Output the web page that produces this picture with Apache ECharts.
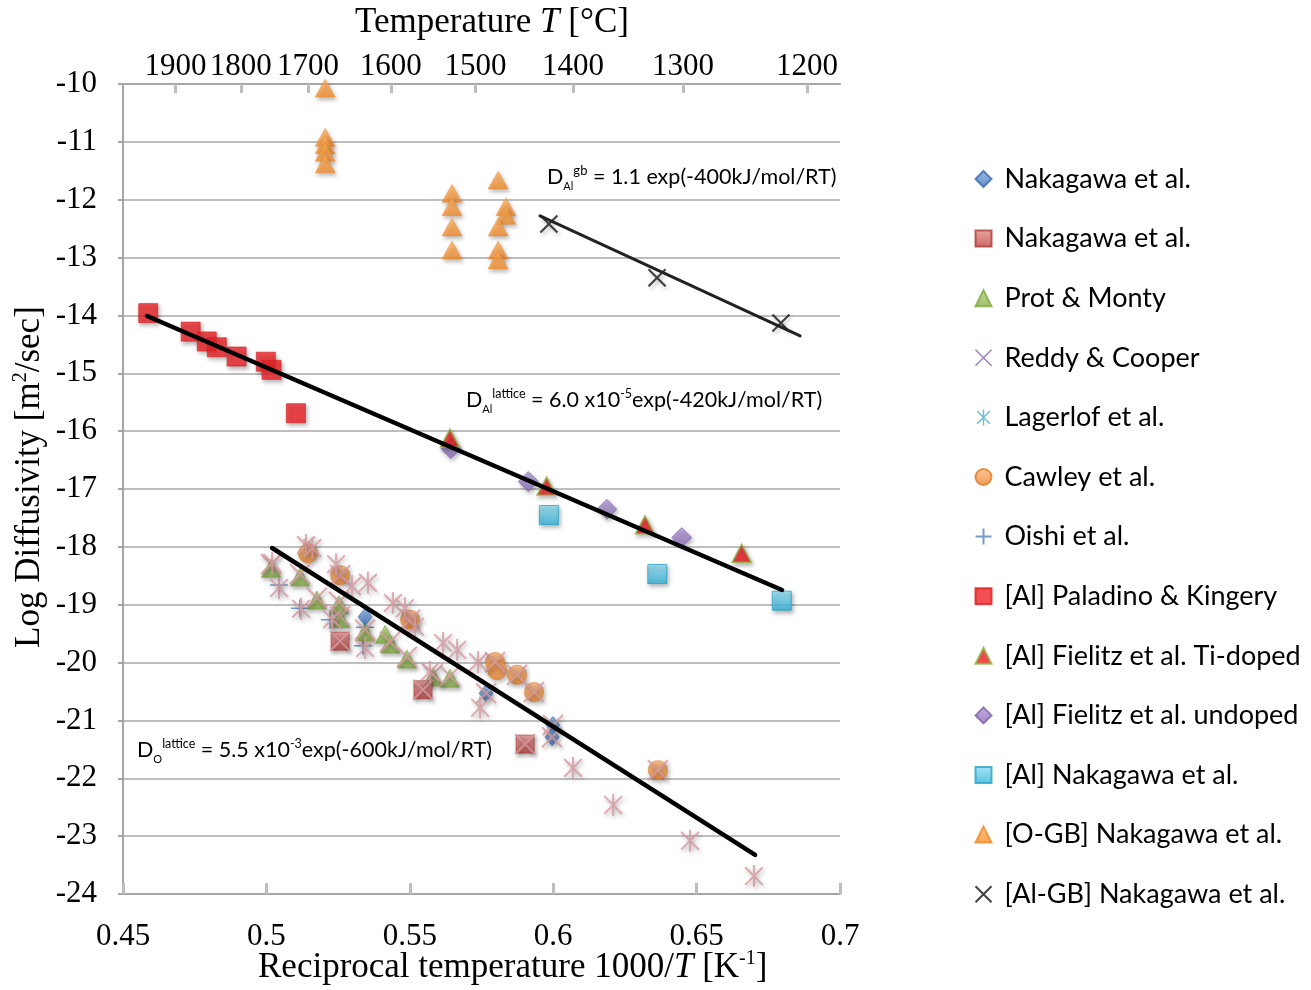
<!DOCTYPE html>
<html>
<head>
<meta charset="utf-8">
<script src="https://cdn.jsdelivr.net/npm/echarts@6/dist/echarts.min.js"></script>
<style>
  html, body { margin: 0; padding: 0; background: #fff; }
  #chart { width: 1311px; height: 990px; }
</style>
</head>
<body>
<div id="chart"></div>
<script>
// Axes: reciprocal temperature 1000/T [1/K] against log10 of diffusivity [m^2/s]
const xMin = 0.45, xMax = 0.7, xStep = 0.05;
const yMin = -24, yMax = -10, yStep = 1;

// Secondary temperature scale (°C) on the top edge, placed on the 1000/T axis
const tempTickLabels = ['1900', '1800', '1700', '1600', '1500', '1400', '1300', '1200'];
const tempTickPos = [0.4683, 0.4911, 0.5145, 0.5434, 0.5729, 0.6069, 0.6453, 0.6885];

// Oxygen lattice diffusion data
const nakagawaDiamond = [[0.5344, -19.21], [0.5766, -20.53], [0.5999, -21.08], [0.5996, -21.29]];
const nakagawaSquare = [[0.5257, -19.63], [0.5546, -20.47], [0.5902, -21.41]];
const protMonty = [[0.5016, -18.37], [0.5117, -18.52], [0.5176, -18.92], [0.5253, -19.00], [0.5257, -19.24],
  [0.5344, -19.47], [0.5414, -19.51], [0.5431, -19.68], [0.5490, -19.94], [0.5581, -20.25], [0.5640, -20.27]];
const reddyCooper = [[0.5016, -18.30], [0.5117, -18.47], [0.5176, -18.88], [0.5253, -18.95], [0.5257, -19.20],
  [0.5344, -19.43], [0.5431, -19.64], [0.5490, -19.90], [0.5581, -20.20], [0.5640, -20.23], [0.5257, -18.49],
  [0.5501, -19.26], [0.5797, -19.99], [0.5874, -20.21], [0.5933, -20.51], [0.6365, -21.86], [0.5766, -20.53],
  [0.5999, -21.08], [0.5996, -21.29], [0.5257, -19.63], [0.5546, -20.47], [0.5902, -21.41]];
const lagerlof = [[0.5020, -18.28], [0.5044, -18.71], [0.5138, -17.97], [0.5160, -18.02], [0.5121, -19.07],
  [0.5243, -18.30], [0.5298, -18.68], [0.5354, -18.62], [0.5229, -19.25], [0.5344, -19.75], [0.5441, -18.97],
  [0.5483, -19.06], [0.5518, -19.38], [0.5616, -19.66], [0.5665, -19.78], [0.5738, -19.99], [0.5745, -20.78],
  [0.5570, -20.16], [0.6069, -21.82], [0.6209, -22.46], [0.6477, -23.08], [0.6700, -23.69]];
const cawley = [[0.5145, -18.11], [0.5257, -18.49], [0.5501, -19.26], [0.5797, -19.99], [0.5804, -20.13],
  [0.5874, -20.21], [0.5933, -20.51], [0.6365, -21.86]];
const oishi = [[0.5044, -18.66], [0.5117, -19.06], [0.5222, -19.26], [0.5344, -19.39], [0.5337, -19.71]];

// Aluminium lattice diffusion data
const paladinoKingery = [[0.4588, -13.96], [0.4736, -14.28], [0.4792, -14.45], [0.4827, -14.55],
  [0.4896, -14.71], [0.4998, -14.80], [0.5018, -14.94], [0.5103, -15.69]];
const fielitzTiDoped = [[0.5640, -16.12], [0.5977, -16.95], [0.6320, -17.62], [0.6657, -18.11]];
const fielitzUndoped = [[0.5643, -16.30], [0.5913, -16.87], [0.6187, -17.35], [0.6448, -17.84]];
const nakagawaAl = [[0.5985, -17.45], [0.6363, -18.47], [0.6797, -18.93]];

// Grain-boundary diffusion data
const nakagawaOGB = [[0.5205, -10.07], [0.5205, -10.92], [0.5205, -11.05], [0.5205, -11.18], [0.5205, -11.38],
  [0.5647, -11.89], [0.5647, -12.12], [0.5647, -12.47], [0.5647, -12.87],
  [0.5808, -11.66], [0.5835, -12.12], [0.5835, -12.27], [0.5808, -12.47], [0.5808, -12.87], [0.5808, -13.04]];
const nakagawaAlGB = [[0.5985, -12.42], [0.6362, -13.35], [0.6794, -14.13]];

// Arrhenius fit lines (end points)
const fitAlGB = [[0.5954, -12.28], [0.6861, -14.355]];
const fitAlLattice = [[0.4584, -14.01], [0.6798, -18.745]];
const fitOLattice = [[0.5020, -18.02], [0.6704, -23.325]];

const SERIF = "'Liberation Serif', 'Times New Roman', serif";
const SANS = "Lato, 'Noto Sans', sans-serif";

const grad = (a, b) => ({ type: 'linear', x: 0, y: 0, x2: 0, y2: 1,
  colorStops: [{ offset: 0, color: a }, { offset: 1, color: b }] });
const shadow = { shadowBlur: 4, shadowOffsetX: 1.5, shadowOffsetY: 2.5, shadowColor: 'rgba(0,0,0,0.35)' };

const SYM_X = 'path://M-8,-8L8,8M8,-8L-8,8';
const SYM_ASTER = 'path://M0,-10L0,10M-8,-8L8,8M8,-8L-8,8';
const SYM_PLUS = 'path://M0,-9L0,9M-9,0L9,0';
const PINK = '#d69aa0';

function scatter(name, data, symbol, size, style, extra) {
  return Object.assign({
    type: 'scatter', name, data, symbol, symbolSize: size, symbolKeepAspect: true,
    itemStyle: Object.assign({}, shadow, style), z: 2
  }, extra || {});
}
function fit(data, color, width) {
  return { type: 'line', data, showSymbol: false, symbol: 'none', z: 5, silent: true,
    lineStyle: { color, width, cap: 'round' } };
}

// Text runs with sub/superscripts, laid out by measured widths
const measureCtx = document.createElement('canvas').getContext('2d');
function textWidth(t, size, family, style) {
  measureCtx.font = (style || 'normal') + ' ' + size + 'px ' + family;
  return measureCtx.measureText(t).width;
}
function run(x, y, parts, family, rotation) {
  let cx = 0;
  const children = parts.map(p => {
    const el = { type: 'text', x: cx, y: p.dy || 0, silent: true,
      style: { text: p.t, fontSize: p.s, fontFamily: family, fontStyle: p.it ? 'italic' : 'normal',
        fill: '#000', align: 'left', verticalAlign: 'middle' } };
    cx += textWidth(p.t, p.s, family, p.it ? 'italic' : 'normal');
    return el;
  });
  return { type: 'group', x, y, rotation: rotation || 0, children };
}

const T = 35;  // axis title size
const A = 21.5; // formula text size
const graphics = [
  run(355, 23, [{ t: 'Temperature ', s: T }, { t: 'T', s: T, it: true }, { t: ' [°C]', s: T }], SERIF),
  run(258, 968, [{ t: 'Reciprocal temperature 1000/', s: T }, { t: 'T', s: T, it: true }, { t: ' [K', s: T },
    { t: '-1', s: 20, dy: -9 }, { t: ']', s: T }], SERIF),
  run(30, 648, [{ t: 'Log Diffusivity [m', s: T }, { t: '2', s: 20, dy: -9 }, { t: '/sec]', s: T }], SERIF, Math.PI / 2),
  run(547, 177, [{ t: 'D', s: A }, { t: 'Al', s: 11, dy: 9 }, { t: 'gb', s: 13, dy: -6 },
    { t: ' = 1.1 exp(-400kJ/mol/RT)', s: A }], SANS),
  run(466, 400, [{ t: 'D', s: A }, { t: 'Al', s: 11, dy: 9 }, { t: 'lattice', s: 12.5, dy: -6 },
    { t: ' = 6.0 x10', s: A }, { t: '-5', s: 12.5, dy: -6 }, { t: 'exp(-420kJ/mol/RT)', s: A }], SANS),
  run(137, 750, [{ t: 'D', s: A }, { t: 'O', s: 11, dy: 9 }, { t: 'lattice', s: 12.5, dy: -6 },
    { t: ' = 5.5 x10', s: A }, { t: '-3', s: 12.5, dy: -6 }, { t: 'exp(-600kJ/mol/RT)', s: A }], SANS)
];

const AX = '#a6a6a6';
const option = {
  animation: false,
  backgroundColor: '#fff',
  grid: { left: 123, right: 471, top: 84, bottom: 96, containLabel: false },
  xAxis: [{
    type: 'value', position: 'bottom', min: xMin, max: xMax, interval: xStep,
    axisLine: { onZero: false, lineStyle: { color: AX, width: 2 } },
    axisTick: { inside: true, length: 11, lineStyle: { color: '#bdbdbd', width: 3 } },
    axisLabel: { margin: 27, fontFamily: SERIF, fontSize: 31, color: '#000' },
    splitLine: { show: false }
  }, {
    type: 'value', position: 'top', min: xMin, max: xMax,
    axisLine: { onZero: false, lineStyle: { color: AX, width: 2 } },
    axisTick: { inside: true, length: 9, customValues: tempTickPos, lineStyle: { color: '#bdbdbd', width: 3 } },
    axisLabel: { margin: 2, fontFamily: SERIF, fontSize: 31, color: '#000', customValues: tempTickPos,
      formatter: v => {
        const i = tempTickPos.findIndex(p => Math.abs(p - v) < 1e-6);
        return i < 0 ? '' : tempTickLabels[i];
      } },
    splitLine: { show: false }
  }],
  yAxis: {
    type: 'value', min: yMin, max: yMax, interval: yStep,
    axisLine: { show: true, onZero: false, lineStyle: { color: AX, width: 2 } },
    axisTick: { show: true, length: 5, lineStyle: { color: AX, width: 2 } },
    axisLabel: { margin: 26, fontFamily: SERIF, fontSize: 31, color: '#000' },
    splitLine: { lineStyle: { color: '#a8a8a8', width: 1.5 } }
  },
  legend: {
    orient: 'vertical', left: 968, top: 159, itemGap: 29.6, itemWidth: 16, itemHeight: 16,
    selectedMode: false,
    textStyle: { fontFamily: SANS, fontSize: 27, color: '#000', lineHeight: 30, padding: [0, 0, 0, 8] },
    itemStyle: { shadowBlur: 0, shadowOffsetX: 0, shadowOffsetY: 0 },
    data: [
      'Nakagawa et al.', 'Nakagawa et al. ', 'Prot & Monty',
      { name: 'Reddy & Cooper', itemStyle: { color: 'none', borderColor: '#8064a2', borderWidth: 1.5 } },
      { name: 'Lagerlof et al.', itemStyle: { color: 'none', borderColor: '#4bacc6', borderWidth: 1.5 } },
      'Cawley et al.', 'Oishi et al.', '[Al] Paladino & Kingery', '[Al] Fielitz et al. Ti-doped',
      '[Al] Fielitz et al. undoped', '[Al] Nakagawa et al.', '[O-GB] Nakagawa et al.', '[Al-GB] Nakagawa et al.'
    ]
  },
  graphic: graphics,
  series: [
    scatter('Oishi et al.', oishi, SYM_PLUS, 18, { color: 'none', borderColor: '#4f81bd', borderWidth: 1.5 }),
    scatter('Prot & Monty', protMonty, 'triangle', [19, 18], { color: grad('#b6d47e', '#85ad43'), borderColor: '#7fa63e', borderWidth: 0.8 }),
    scatter('Cawley et al.', cawley, 'circle', 19, { color: grad('#fbb47a', '#ef842c'), borderColor: '#e07a28', borderWidth: 0.8 }),
    scatter('Nakagawa et al.', nakagawaDiamond, 'diamond', [14, 17], { color: grad('#7fa9e2', '#3f73b8'), borderColor: '#3a6aa8', borderWidth: 0.8 }),
    scatter('Nakagawa et al. ', nakagawaSquare, 'rect', 18, { color: grad('#e58e8b', '#bf423e'), borderColor: '#a83a38', borderWidth: 0.8 }),
    scatter('[Al] Paladino & Kingery', paladinoKingery, 'rect', 19, { color: '#ee2328', borderColor: '#d81e1e', borderWidth: 0.8 }),
    scatter('[Al] Fielitz et al. undoped', fielitzUndoped, 'diamond', 20, { color: grad('#b29ad8', '#8a6cb6'), borderColor: '#7b5fa8', borderWidth: 0.8 }),
    scatter('[Al] Fielitz et al. Ti-doped', fielitzTiDoped, 'triangle', [19, 18], { color: '#ee1c1c', borderColor: '#8cb848', borderWidth: 1.5 }),
    scatter('[Al] Nakagawa et al.', nakagawaAl, 'rect', 19, { color: grad('#93def3', '#2fb4da'), borderColor: '#2aa0c4', borderWidth: 1 }),
    scatter('[O-GB] Nakagawa et al.', nakagawaOGB, 'triangle', [20, 18], { color: grad('#fdb262', '#f58d2a'), borderColor: '#f08a2a', borderWidth: 0.5 }),
    scatter('[Al-GB] Nakagawa et al.', nakagawaAlGB, SYM_X, 17, { color: 'none', borderColor: '#111', borderWidth: 2 }),
    scatter('Reddy & Cooper', reddyCooper, SYM_X, 20, { color: 'none', borderColor: PINK, borderWidth: 2 }, { z: 3 }),
    scatter('Lagerlof et al.', lagerlof, SYM_ASTER, 22, { color: 'none', borderColor: PINK, borderWidth: 2 }, { z: 3 }),
    fit(fitAlGB, '#222', 3),
    fit(fitAlLattice, '#000', 4.5),
    fit(fitOLattice, '#000', 4.5)
  ]
};

const chart = echarts.init(document.getElementById('chart'), null, { renderer: 'canvas' });
chart.setOption(option);
</script>
</body>
</html>
